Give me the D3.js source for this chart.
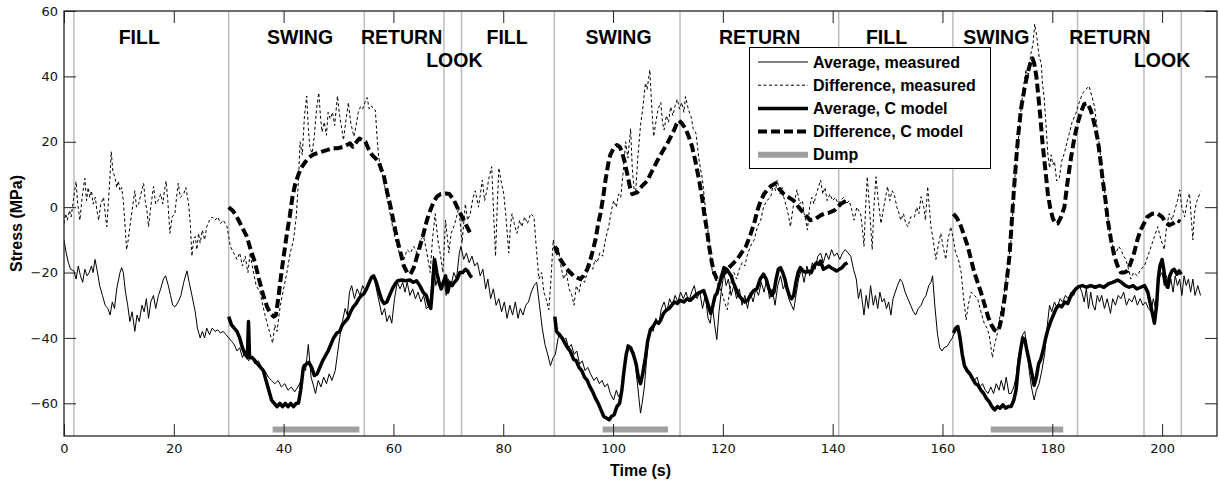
<!DOCTYPE html>
<html>
<head>
<meta charset="utf-8">
<script src="https://cdn.jsdelivr.net/npm/d3@7"></script>
<style>
html,body{margin:0;padding:0;background:#fff;}
svg{display:block;}
</style>
</head>
<body>
<svg id="chart" width="1219" height="486"></svg>
<script>
// ---------------- DATA ----------------
const xTicks = [0,20,40,60,80,100,120,140,160,180,200];
const yTicks = [-60,-40,-20,0,20,40,60];
const phaseBoundaries = [1.8,30,54.7,69.2,72.4,89.3,112.2,141.1,161.9,184.6,196.7,203.5];
const phaseNames = ["FILL","SWING","RETURN","FILL","SWING","RETURN","FILL","SWING","RETURN","LOOK","LOOK"];
const phaseCenters = [13.7,43,61.5,80.7,101,126.7,149.8,169.8,190.5,71.1,200];
const phaseRows = [0,0,0,0,0,0,0,0,0,1,1];
const legendNames = ["Average, measured","Difference, measured","Average, C model","Difference, C model","Dump"];
const dumpPeriods = [[38,53.8],[98.1,110],[168.8,182]];
const dumpLevel = -68;

const avgMeasured = [[0,-10],[0.4,-14],[0.8,-17],[1.2,-19],[1.8,-19.5],[2.2,-22],[2.6,-18],[3,-21],[3.4,-23],[3.8,-19],[4.2,-21],[4.6,-20],[5,-18],[5.3,-20],[5.65,-16],[6,-19],[6.5,-24],[7,-27],[7.5,-30],[8,-31],[8.4,-33],[8.8,-29],[9.2,-31],[9.6,-25],[10.2,-20],[10.5,-18.5],[10.8,-20],[11.2,-26],[11.6,-30],[12,-35],[12.4,-32],[12.9,-38],[13.3,-33],[13.7,-35],[14.2,-30],[14.6,-32],[15,-28],[15.4,-34],[15.8,-29],[16.3,-27],[16.7,-31],[17.2,-27],[17.6,-25],[18.1,-22],[18.5,-21],[19,-24],[19.4,-27],[19.8,-30],[20.2,-30.5],[20.8,-29],[21.3,-27],[21.8,-23],[22.4,-19.5],[22.8,-23],[23.3,-27],[23.9,-32],[24.3,-37],[24.8,-40],[25.2,-38],[25.6,-40],[26,-37],[26.5,-39],[27,-37],[27.5,-38],[28,-37.5],[28.5,-38.5],[29,-38],[29.5,-39],[30,-40],
[30.5,-41],[31,-42],[31.5,-44],[32,-43],[32.5,-46],[33,-44],[33.6,-47],[34.2,-46],[34.8,-48],[35.4,-47],[36,-49],[36.6,-50],[37.2,-52],[37.8,-53],[38.4,-54],[39,-53],[39.6,-55],[40.2,-54],[40.8,-56],[41.4,-55],[42,-56.5],[42.6,-55],[43.2,-53],[43.6,-48],[44,-50],[44.5,-42],[45,-52],[45.5,-55],[45.8,-57],[46.3,-53],[46.8,-55],[47.3,-52],[47.8,-54],[48.3,-51],[48.8,-53],[49.4,-50],[49.8,-45],[50.2,-40],[50.7,-35],[51.2,-31],[51.6,-33],[52,-26],[52.4,-24],[52.9,-28],[53.4,-25],[53.9,-27],[54.4,-24],[54.9,-26],[55.5,-23],[56,-22],[56.4,-21],[56.9,-25],[57.4,-29],[57.9,-33],[58.4,-31],[58.8,-35],[59.3,-33],[59.7,-35.5],[60.2,-28],[60.7,-23],[61.2,-25],[61.7,-23],[62.1,-26],[62.5,-23],[63,-27],[63.5,-25],[64,-28],[64.5,-26],[65,-29],[65.5,-27],[66,-31],[66.7,-30],[67,-22],[67.3,-15],[67.7,-24],[68.2,-21],[68.6,-24],[69.2,-22],[69.6,-27],[70,-22],[70.5,-24],[71,-20],[71.5,-22],[72,-14],[72.3,-12],[72.8,-16],[73.3,-14],[73.8,-17],[74.3,-15],[74.8,-18],[75.3,-17],[75.8,-21],[76.3,-19],[76.8,-25],[77.2,-22],[77.7,-28],[78.2,-25],[78.7,-30],[79.2,-28],[79.7,-32],[80.2,-29],[80.7,-34],[81.2,-30],[81.7,-33],[82.2,-29],[82.7,-34],[83.1,-31],[83.6,-33],[84.1,-30],[84.6,-29],[85.1,-26],[85.6,-24],[86.1,-23],[86.6,-30],[87.1,-37],[87.6,-42],[88.1,-45],[88.6,-48.5],[89.1,-46],[89.5,-45],[90,-40],[90.4,-38.5],[90.9,-41],[91.4,-40],[91.9,-43],[92.4,-42],[92.9,-45],[93.4,-44],[93.9,-48],[94.4,-47],[94.9,-50],[95.4,-49],[95.9,-51],[96.5,-53],[97,-52],[97.5,-54],[98,-53],[98.5,-55],[99,-54],[99.5,-57],[100.1,-59],[100.6,-56],[101,-58],[101.4,-57],[101.9,-52],[102.3,-45],[102.6,-42],[103,-43],[103.5,-45],[104,-47],[104.5,-55],[105,-63],[105.3,-60],[105.7,-55],[106.1,-47],[106.5,-40],[106.9,-37],[107.3,-38],[107.8,-34],[108.3,-36],[108.8,-31],[109.3,-29],[109.8,-32],[110.3,-28],[110.8,-30],[111.3,-27],[111.8,-29],[112.3,-26],[112.8,-28],[113.3,-26],[113.8,-29],[114.3,-26],[114.8,-24],[115.3,-28],[115.8,-26],[116.3,-31],[116.8,-27],[117.3,-34],[117.7,-35.5],[118.1,-30],[118.5,-36],[118.9,-40.5],[119.3,-32],[119.7,-26],[120.2,-20],[120.6,-24],[121,-22],[121.5,-27],[122,-24],[122.5,-28],[123,-25],[123.5,-30],[124,-27],[124.5,-31],[125,-26],[125.5,-29],[126,-25],[126.5,-27],[127,-23],[127.5,-26],[128,-22],[128.5,-28],[129,-25],[129.5,-30],[130,-24],[130.5,-21],[131,-25],[131.5,-23],[132,-28],[132.5,-30],[132.9,-31.5],[133.4,-26],[133.8,-22],[134.3,-19],[134.8,-23],[135.3,-18],[135.8,-21],[136.3,-17],[136.8,-19],[137.3,-15],[137.8,-14],[138.3,-17],[138.8,-14],[139.3,-16],[139.8,-13],[140.3,-15],[140.8,-14],[141.3,-16],[141.8,-14],[142.3,-13],[142.8,-14],[143.3,-15],[143.8,-19],[144.3,-22],[144.7,-28],[145.1,-25],[145.7,-33],[146.1,-27],[146.5,-31],[146.9,-24],[147.4,-30],[147.8,-27],[148.2,-31],[148.6,-26],[149,-29],[149.4,-28],[149.8,-31],[150.2,-29],[150.6,-33],[151,-28],[151.4,-26],[151.8,-24],[152.3,-22],[152.7,-23],[153.2,-26],[153.7,-28],[154.2,-30],[154.7,-32],[155.1,-33],[155.6,-31],[156.1,-30],[156.6,-28],[157,-27],[157.5,-24],[157.9,-23],[158.2,-21],[158.6,-30],[159.1,-39],[159.5,-43],[159.9,-44],[160.3,-43],[160.9,-42.5],[161.4,-41],[161.8,-40],[162.3,-38],[162.8,-37.5],[163.3,-43],[163.7,-47],[164.2,-50],[164.7,-51],[165.2,-52],[165.8,-53],[166.3,-52],[166.8,-55],[167.3,-54],[167.8,-56],[168.3,-57],[168.8,-55],[169.3,-57],[169.8,-54],[170.3,-56],[170.7,-53],[171.2,-56],[171.6,-52],[172.1,-57],[172.5,-57],[173,-55],[173.4,-52],[173.8,-46],[174.2,-43],[174.6,-39],[175,-38],[175.4,-44],[175.8,-50],[176.2,-55],[176.7,-59],[177.1,-56],[177.6,-54],[178.1,-50],[178.6,-45],[179.1,-36],[179.5,-30],[179.9,-32],[180.4,-29],[180.9,-31],[181.4,-28],[181.9,-29],[182.4,-27],[182.9,-28],[183.4,-26],[183.9,-27],[184.4,-25],[184.9,-24],[185.4,-26],[185.8,-29],[186.2,-25],[186.6,-31],[187,-26],[187.4,-30],[187.8,-31.5],[188.2,-27],[188.6,-29],[189,-27],[189.5,-31],[190,-28],[190.6,-32.5],[191,-28],[191.5,-30],[192,-27],[192.5,-28],[193,-26],[193.5,-30],[194,-28],[194.5,-29],[195,-27],[195.5,-30],[196,-28],[196.5,-30],[197,-29],[197.5,-31],[198,-32],[198.4,-28],[198.8,-31],[199.2,-25],[199.6,-21],[200,-20],[200.4,-24],[200.8,-21],[201.2,-25],[201.6,-22],[202,-26],[202.4,-21],[202.8,-24],[203.2,-22],[203.6,-27],[204,-21],[204.4,-24],[204.8,-22],[205.2,-26],[205.6,-22],[206,-27],[206.5,-24],[207,-27]];

const diffMeasured = [[0,-5],[0.3,-2],[0.6,-4],[1,-1],[1.3,-3],[1.7,2],[2.2,7.8],[2.5,1],[2.9,-4],[3.3,3],[3.8,8.8],[4.1,2],[4.4,6],[4.7,3],[5,5],[5.3,1],[5.7,3],[6,-1],[6.3,-4],[6.7,1],[7.2,3],[7.5,-2],[7.8,-6],[8.1,2],[8.4,10],[8.6,17],[8.9,11],[9.3,9],[9.6,6],[9.9,8],[10.2,5],[10.5,6],[10.8,2],[11.1,-5],[11.4,-13],[11.7,-10],[12,-6],[12.4,-1],[12.9,5],[13.2,0],[13.6,1],[14,4],[14.5,7.3],[14.8,2],[15.1,-1],[15.4,-6],[15.8,0],[16.3,6.3],[16.7,1],[17.2,2.2],[17.6,4],[18,1],[18.3,5],[18.6,8],[18.9,2],[19.3,-8],[19.7,-3],[20.2,-2],[20.5,3],[20.8,7.3],[21.2,3],[21.8,4],[22.2,6],[22.7,1],[23,-5],[23.3,-15],[23.6,-10],[23.9,-9],[24.2,-13],[24.5,-8],[24.8,-11],[25.2,-7],[25.6,-10],[26,-6],[26.5,-4],[27,-3],[27.5,-4],[28,-3],[28.5,-5],[29,-4],[29.7,-6],[30.3,-12],[30.9,-14],[31.5,-16],[32,-14],[32.5,-18],[33,-15],[33.5,-20],[33.9,-14],[34.4,-19],[35,-24],[35.7,-26],[36.2,-30],[36.9,-35],[37.4,-38],[38,-41.6],[38.4,-36],[38.8,-38],[39.4,-30],[40,-25],[40.6,-20],[41.2,-14],[41.8,-10],[42.3,-3],[42.7,8],[43,20],[43.4,16],[43.8,28],[44.2,34],[44.5,24],[44.8,18],[45.2,16.5],[45.6,22],[46,30],[46.4,35],[46.7,28],[47,23],[47.4,26],[47.8,22],[48.1,29],[48.5,27],[48.9,29],[49.3,25],[49.8,34],[50.2,28],[50.5,25],[50.9,20.5],[51.3,26],[51.8,32],[52.2,26],[52.8,21.6],[53.2,25],[53.6,29],[54,30.7],[54.4,30],[54.8,32],[55.2,33.5],[55.6,30],[56,31],[56.4,30],[56.7,29.7],[57,22],[57.3,15.5],[57.7,12],[58.2,8.3],[58.8,3],[59.5,-3],[60.1,-8],[60.7,-12],[61.3,-15],[61.9,-16],[62.5,-13],[63.1,-14],[63.7,-12],[64.3,-14],[64.9,-10],[65.5,-9],[66.1,-14],[66.7,-20],[67.1,-10],[67.6,-2],[68.1,-10],[68.6,-15],[69,-20],[69.5,-4],[70.1,-14],[70.5,-8],[71,-6],[71.5,-3],[71.9,0],[72.5,-11],[73.1,1],[73.5,-4],[74,-2],[74.5,3],[74.9,5],[75.5,0],[76.2,8.3],[76.6,2],[77,5],[77.4,9],[77.9,12.4],[78.2,0],[78.6,-15],[78.9,0],[79.2,12],[79.6,8],[80.1,4],[80.5,-3],[81,-14],[81.3,-6],[81.6,-2],[82,-5],[82.5,-8],[83,-4],[83.4,-6],[83.9,-3],[84.4,-5],[85,-2],[85.6,-3],[86,-12],[86.5,-22],[87,-20],[87.4,-26],[87.8,-28],[88.3,-31.4],[88.7,-22],[89.1,-10],[89.5,-14],[90,-12],[90.5,-18],[91,-22],[91.5,-20],[92,-25],[92.5,-27],[92.9,-30],[93.3,-24],[93.8,-26],[94.3,-22],[94.8,-23],[95.3,-20],[95.8,-18],[96.3,-19],[96.7,-16],[97.1,-17],[97.6,-14],[98.1,-15],[98.6,-10],[99.2,-6],[99.6,-2],[100.1,2],[100.6,0],[101,4],[101.4,3],[101.8,10],[102.3,20],[102.7,15],[103.2,24],[103.5,12],[103.8,6],[104.1,4],[104.5,15],[105,25],[105.4,30],[105.9,38],[106.2,36],[106.7,42],[107,32],[107.4,21.6],[107.8,26],[108.2,30],[108.7,32],[109,26],[109.3,23.6],[109.7,28],[110.1,26],[110.5,30.7],[110.9,28],[111.3,31],[111.7,33],[112.1,30],[112.5,32],[112.9,29],[113.2,33.8],[113.7,30],[114.2,27.7],[114.6,24],[115.1,22.6],[115.7,14],[116.3,8.3],[116.8,0],[117.2,-6],[117.7,-14],[118.1,-20],[118.6,-22],[119.3,-24.3],[119.8,-26],[120.3,-29],[120.8,-31.4],[121.2,-26],[121.6,-22],[122,-20],[122.5,-22],[123,-19],[123.5,-17],[124,-18],[124.4,-15],[125,-12],[125.7,-10],[126.3,-6],[126.9,-4],[127.4,0],[128,2],[128.7,3],[129.2,7],[129.6,5],[129.9,8.3],[130.4,4],[130.8,6],[131.1,3],[131.6,0],[132,-3],[132.3,-6],[132.8,0],[133.2,3],[133.5,5.3],[134,1],[134.5,2],[134.8,-2],[135.1,-4],[135.4,-7],[135.8,0],[136.2,3],[136.6,1],[137,4],[137.4,6],[137.8,8.3],[138.2,4],[138.6,6],[139,2],[139.5,4],[140,2],[140.5,3],[141,1],[141.5,2.2],[142,3],[142.5,1],[143,2],[143.5,-1],[143.9,-4],[144.4,0],[145.1,-2],[145.5,-8],[145.7,-12],[146,0],[146.3,9.3],[146.7,0],[147.2,-13],[147.5,0],[147.9,9.3],[148.3,2],[148.8,-5],[149.3,0],[150,6.3],[150.4,2],[150.8,5],[151.2,4],[151.7,0],[152.1,-2],[152.4,-4],[152.9,-2],[153.3,-5],[153.7,-6],[154.2,-3],[154.9,-3],[155.3,0],[155.7,-2],[156.1,3.2],[156.6,0],[156.9,-4],[157.3,6.3],[157.6,0],[157.9,-6],[158.3,-10],[158.8,-16],[159.2,-12],[159.7,-8],[160.1,-12],[160.6,-16],[161,-10],[161.5,-6],[162,-10],[162.4,-14],[162.9,-16],[163.4,-20],[163.8,-27],[164.3,-34.5],[164.7,-30],[165.2,-26],[165.8,-27],[166.4,-28],[167,-32],[167.6,-35.5],[168.1,-37],[168.5,-39],[169.1,-46],[169.5,-42],[170,-38.6],[170.6,-32],[171.3,-26],[171.9,-18],[172.5,-10],[173,4],[173.4,14],[173.9,22],[174.3,30],[174.8,37],[175.2,42],[175.6,40],[176.1,47],[176.5,50],[176.8,56],[177.2,52],[177.6,46],[178,44],[178.2,38],[178.5,34],[178.9,24],[179.2,16],[179.5,12],[179.8,16],[180.1,13],[180.4,14],[180.8,8],[181.3,9],[181.7,14],[182.2,16.5],[182.7,20],[183.1,22.6],[183.6,26],[184.3,28.7],[184.9,32],[185.5,34.8],[186.1,36],[186.7,37],[187.2,34],[187.7,30.7],[188.1,25],[188.6,18.5],[189,12],[189.5,5.3],[190.1,-3],[190.7,-10],[191.2,-13],[191.6,-14],[192.1,-12],[192.5,-13],[193,-15],[193.4,-16],[193.9,-19],[194.3,-22],[194.8,-20],[195.5,-21],[196.1,-19],[196.8,-18],[197.4,-15],[198,-12],[198.6,-9],[199.2,-6],[199.8,-10],[200.4,-13],[200.8,-6],[201.3,-2],[201.8,-4],[202.3,-1],[202.8,2],[203.2,5.3],[203.6,0],[204.1,-3],[204.6,2],[205,4.2],[205.3,-3],[205.6,-10],[205.9,-2],[206.2,1.2],[206.6,3],[207,4.7]];

const avgModel1 = [[30,-33.5],[30.5,-36],[31,-37],[31.5,-38],[32,-40],[32.5,-43],[33,-45],[33.4,-46],[33.6,-35],[33.8,-46],[34.3,-46],[34.8,-47],[35.3,-48],[35.8,-49],[36.3,-50],[36.8,-53],[37.3,-56],[37.8,-59],[38.3,-60],[38.8,-61],[39.3,-60],[39.8,-61],[40.3,-60],[40.8,-61],[41.3,-60],[41.8,-61],[42.3,-60],[42.7,-60],[43.1,-56],[43.6,-49],[44.1,-48],[44.6,-47.5],[45.1,-49],[45.6,-51.5],[46.1,-51],[46.6,-49],[47.1,-47],[47.6,-45.5],[48.1,-44],[48.6,-42],[49.1,-40],[49.7,-38.5],[50.2,-38],[50.7,-36],[51.2,-35],[51.7,-34],[52.2,-32],[52.7,-30.5],[53.2,-29.5],[53.7,-28],[54.2,-27],[54.6,-26.5],[55.1,-25],[55.6,-23],[56,-21.5],[56.4,-21],[56.9,-23],[57.4,-26],[57.9,-28.5],[58.3,-29.5],[58.8,-29],[59.3,-27],[59.8,-25],[60.3,-23.5],[60.8,-22.5],[61.5,-22.3],[62.2,-22.5],[63,-22.3],[63.6,-23],[64.2,-22.5],[64.8,-24],[65.4,-26],[66,-27],[66.5,-30],[66.8,-31],[67.1,-25],[67.5,-16],[67.9,-20],[68.3,-23],[68.7,-25],[69.1,-23],[69.5,-21],[69.9,-26],[70.3,-23],[70.7,-24],[71.1,-23],[71.6,-22],[72.1,-20],[72.6,-20],[73.1,-19],[73.5,-19.5],[74,-21],[74.3,-21.5]];
const avgModel2 = [[89.4,-33.5],[89.7,-38],[90.2,-39],[90.7,-40],[91.2,-41.5],[91.7,-43],[92.2,-44],[92.8,-46.5],[93.3,-47],[93.8,-49],[94.3,-50],[94.8,-52],[95.3,-53],[95.8,-55],[96.3,-56.5],[96.8,-58.5],[97.3,-60],[97.8,-62],[98.3,-64],[98.8,-64.5],[99.3,-65],[99.7,-64],[100.2,-63.5],[100.7,-61],[101.2,-60],[101.6,-56],[102,-50],[102.4,-45],[102.8,-42.5],[103.2,-43],[103.7,-45],[104.2,-48],[104.6,-52],[105,-54],[105.4,-51],[105.9,-46],[106.3,-41],[106.8,-37.5],[107.3,-36.5],[107.8,-35],[108.3,-35.5],[108.7,-34.5],[109.2,-32.5],[109.7,-31.5],[110.2,-31],[110.7,-30],[111.2,-29],[111.7,-29.5],[112.2,-28.5],[112.9,-29],[113.5,-28],[114.1,-28.5],[114.7,-27.5],[115.3,-26.5],[115.9,-26],[116.5,-25.5],[117,-28],[117.5,-31],[117.8,-32.5],[118.2,-30],[118.6,-27],[118.9,-26.5],[119.3,-24],[119.8,-21],[120.2,-18.5],[120.7,-19],[121.1,-20],[121.5,-21],[121.9,-23],[122.4,-25],[122.9,-27],[123.4,-28],[124,-29],[124.5,-28.5],[125,-27],[125.6,-25.5],[126.2,-25],[126.8,-22],[127.4,-20.5],[127.9,-22],[128.4,-25],[128.9,-27],[129.3,-26],[129.7,-22],[130.1,-19],[130.5,-18.5],[130.9,-20],[131.3,-22],[131.7,-25],[132.1,-27],[132.5,-28],[132.9,-27],[133.3,-23],[133.7,-20],[134.1,-18.5],[134.6,-19.5],[135.1,-20],[135.6,-19.5],[136.1,-20],[136.6,-18],[137.1,-17],[137.5,-17.5],[137.8,-16.5],[138.3,-19],[138.8,-18.5],[139.3,-18],[139.7,-18.5],[140.2,-19],[140.7,-19.5],[141.2,-19],[141.7,-18.5],[142.2,-17.5],[142.7,-17]];
const avgModel3 = [[162,-38.5],[162.4,-37],[162.8,-36.5],[163.2,-40],[163.6,-45],[164,-48.5],[164.5,-50],[165,-51],[165.5,-52.5],[166,-54],[166.5,-54.5],[167,-56],[167.5,-57],[168,-58.5],[168.5,-59.5],[169,-61],[169.5,-62],[170,-61],[170.5,-61.5],[171,-60.5],[171.5,-61.5],[172,-61],[172.5,-61],[173,-59],[173.4,-56],[173.8,-49],[174.2,-44],[174.6,-40],[175,-40.5],[175.4,-44],[175.8,-47],[176.3,-51],[176.7,-54.5],[177.1,-52],[177.5,-48],[177.9,-46.5],[178.3,-44],[178.8,-40],[179.2,-37.5],[179.7,-35],[180.2,-33],[180.7,-31],[181.2,-30],[181.7,-30.5],[182.3,-29],[182.8,-29.5],[183.3,-27.5],[183.8,-26],[184.3,-25],[184.8,-24.3],[185.5,-24],[186.2,-24.5],[187,-24],[187.8,-24.5],[188.6,-24],[189.4,-24.5],[190.2,-23.5],[191,-23],[191.9,-22.3],[192.6,-23],[193.3,-24],[194,-24.5],[194.7,-24],[195.4,-25],[196.1,-24.5],[196.8,-24],[197.4,-26],[197.9,-30],[198.3,-33],[198.6,-35.5],[199,-30],[199.3,-22],[199.6,-18],[200,-16],[200.3,-19],[200.6,-23],[201,-24.5],[201.4,-21],[201.8,-19.5],[202.2,-19],[202.7,-20.5],[203.1,-19.5],[203.5,-20.5]];

const diffModel1 = [[30,0],[30.7,-1],[31.5,-3],[32.4,-6],[33.3,-9],[34,-13],[34.8,-17],[35.5,-22],[36.3,-27],[37,-30.5],[37.6,-32.5],[38.2,-33.5],[38.6,-33],[39.1,-27],[39.6,-20],[40.1,-14],[40.6,-8],[41.1,-3],[41.6,3],[42.1,7],[42.6,9.5],[43.2,12],[43.8,13.5],[44.5,15],[45.3,16],[46.1,16.5],[47,17],[48,17.5],[48.9,18],[49.8,18],[50.9,18.5],[51.5,19],[52.1,19.5],[52.6,18.5],[53.2,19.8],[53.8,21],[54.4,20.5],[54.9,20],[55.4,18],[56.1,16],[56.7,15],[57.3,14],[57.8,11.5],[58.2,10],[58.8,5],[59.5,0],[60.1,-5],[60.7,-10],[61.3,-14],[61.9,-18],[62.5,-20],[63.1,-20.5],[63.7,-18.5],[64.3,-15],[64.9,-11.5],[65.5,-8],[66.1,-4],[66.7,-1],[67.3,1.5],[67.9,3.2],[68.6,4],[69.5,4.2],[70.2,4],[71,2.2],[71.6,0],[72.2,-2],[72.8,-4],[73.4,-6],[74,-8]];
const diffModel2 = [[89.4,-12],[89.9,-14],[90.4,-16],[91,-17.5],[91.6,-19],[92.2,-20],[92.8,-21],[93.4,-21.5],[94,-22],[94.6,-21],[95.3,-19],[95.8,-16.5],[96.2,-14],[96.8,-10],[97.3,-5],[97.7,-2],[98.2,3],[98.6,8],[99.1,13],[99.5,16],[100.1,18],[100.7,19],[101.2,18.5],[101.6,17],[102.1,14],[102.6,10],[103.1,6],[103.5,4],[104.4,4.5],[105.3,6.5],[106.2,8],[107.1,11],[108,14],[109,17],[109.9,19.5],[110.5,21.5],[111.1,23.5],[111.6,25.5],[112,26.5],[112.6,25.5],[113.2,24],[113.8,21.5],[114.4,18.5],[115,14],[115.7,8],[116.2,3],[116.6,-2],[117.1,-7],[117.5,-12],[118,-17],[118.4,-20],[118.9,-22],[119.3,-22],[119.9,-21],[120.8,-19],[121.7,-17.5],[122.6,-16],[123.4,-14],[124.2,-12],[125,-8.5],[125.7,-5],[126.3,-1],[126.9,2],[127.5,4],[128.1,5.3],[128.8,6.5],[129.6,7.3],[130.3,5.5],[131.1,4],[132,3],[132.9,2],[133.8,0],[134.8,-2],[135.9,-4],[136.9,-3.5],[137.8,-2.5],[138.5,-2],[139.2,-1.8],[140.3,-1],[141.5,1],[142.7,2.2]];
const diffModel3 = [[162,-2],[162.7,-3.5],[163.4,-6],[164,-9],[164.6,-12],[165.2,-16],[165.8,-20],[166.4,-23],[167,-26],[167.7,-30],[168.3,-33.5],[168.9,-36],[169.5,-37.6],[170,-38],[170.4,-36.6],[170.9,-33],[171.3,-28],[171.8,-21],[172.2,-15],[172.6,-5],[173,5],[173.4,14],[173.8,22],[174.3,30],[174.9,36],[175.5,41],[176,44],[176.4,45.5],[176.7,44],[177.1,40],[177.4,35],[177.8,28],[178.2,20],[178.7,12],[179.2,4],[179.6,0],[180.1,-3.5],[180.6,-5],[181,-5],[181.6,-3],[182.2,0],[182.8,8],[183.4,15],[184,21],[184.6,25.5],[185.2,29],[185.8,31.5],[186.4,31.8],[187,29.7],[187.6,26],[188.3,20.5],[188.8,14],[189.2,8],[189.7,2],[190.1,-4],[190.7,-10],[191.3,-15],[191.9,-18],[192.5,-20],[193.1,-20],[193.7,-19.5],[194.3,-17],[194.9,-14],[195.5,-10],[196.1,-7],[196.7,-5],[197.3,-3],[198.2,-2],[199.2,-2],[200,-3],[200.6,-4.5],[201.3,-5.5],[202,-5],[202.8,-4],[203.3,-4.5]];

// ---------------- DRAW ----------------
const FONT = "'Liberation Sans', Arial, Helvetica, sans-serif";
const svg = d3.select("#chart");
const L = 64, R = 1217, T = 11, B = 436;
const x = d3.scaleLinear().domain([0,210]).range([L,R]);
const y = d3.scaleLinear().domain([-70,60]).range([B,T]);

svg.append("defs").append("clipPath").attr("id","plotclip")
  .append("rect").attr("x",L).attr("y",T).attr("width",R-L).attr("height",B-T);

// phase boundary lines
svg.append("g").selectAll("line").data(phaseBoundaries).join("line")
  .attr("x1",d=>x(d)).attr("x2",d=>x(d)).attr("y1",T).attr("y2",B)
  .attr("stroke","#bdbdbd").attr("stroke-width",1.5);

const line = d3.line().x(d=>x(d[0])).y(d=>y(d[1]));
const plot = svg.append("g").attr("clip-path","url(#plotclip)");

const styles = {
  avgMeas: {w:1, dash:null, c:"#000"},
  diffMeas: {w:1, dash:"3,2.5", c:"#000"},
  avgModel: {w:3.5, dash:null, c:"#000"},
  diffModel: {w:4, dash:"9,4", c:"#000"},
  dump: {w:6, dash:null, c:"#a0a0a0"}
};
function drawSeries(data, st){
  plot.append("path").datum(data).attr("d",line)
    .attr("fill","none").attr("stroke",st.c).attr("stroke-width",st.w)
    .attr("stroke-linejoin","round")
    .attr("stroke-dasharray",st.dash);
}
drawSeries(avgMeasured, styles.avgMeas);
drawSeries(diffMeasured, styles.diffMeas);
[avgModel1,avgModel2,avgModel3].forEach(s=>drawSeries(s, styles.avgModel));
[diffModel1,diffModel2,diffModel3].forEach(s=>drawSeries(s, styles.diffModel));

// dump bars
plot.append("g").selectAll("line").data(dumpPeriods).join("line")
  .attr("x1",d=>x(d[0])).attr("x2",d=>x(d[1]))
  .attr("y1",y(dumpLevel)).attr("y2",y(dumpLevel))
  .attr("stroke",styles.dump.c).attr("stroke-width",styles.dump.w);

// axes
const tickFont = "'DejaVu Sans', sans-serif";
const axB = svg.append("g").attr("transform",`translate(0,${B})`)
  .call(d3.axisBottom(x).tickValues(xTicks).tickSizeInner(-12).tickSizeOuter(0).tickPadding(8));
const axL = svg.append("g").attr("transform",`translate(${L},0)`)
  .call(d3.axisLeft(y).tickValues(yTicks).tickSizeInner(-12).tickSizeOuter(0).tickPadding(6));
const axT = svg.append("g").attr("transform",`translate(0,${T})`)
  .call(d3.axisTop(x).tickValues(xTicks).tickSizeInner(-12).tickSizeOuter(0).tickFormat(""));
const axR = svg.append("g").attr("transform",`translate(${R},0)`)
  .call(d3.axisRight(y).tickValues(yTicks).tickSizeInner(-12).tickSizeOuter(0).tickFormat(""));
[axB,axL,axT,axR].forEach(a=>{
  a.select(".domain").remove();
  a.selectAll(".tick line").attr("stroke","#222").attr("stroke-width",1);
  a.selectAll("text").attr("font-family",tickFont).attr("font-size",13).attr("fill","#111");
});
svg.append("rect").attr("x",L).attr("y",T).attr("width",R-L).attr("height",B-T)
  .attr("fill","none").attr("stroke","#222").attr("stroke-width",1.3);

// axis titles
svg.append("text").attr("x",(L+R)/2).attr("y",476).attr("text-anchor","middle")
  .attr("font-family",FONT).attr("font-weight","bold").attr("font-size",16).text("Time (s)");
svg.append("text").attr("transform",`translate(22,${(T+B)/2}) rotate(-90)`).attr("text-anchor","middle")
  .attr("font-family",FONT).attr("font-weight","bold").attr("font-size",16).text("Stress (MPa)");

// phase labels
svg.append("g").selectAll("text").data(phaseNames.map((n,i)=>({n, t:phaseCenters[i], r:phaseRows[i]}))).join("text")
  .attr("x",d=>x(d.t)).attr("y",d=>d.r===0?44:67).attr("text-anchor","middle")
  .attr("font-family",FONT).attr("font-weight","bold").attr("font-size",19.5).attr("fill","#000")
  .text(d=>d.n);

// legend
const lg = svg.append("g");
lg.append("rect").attr("x",749.5).attr("y",47.5).attr("width",241).attr("height",121)
  .attr("fill","#fff").attr("stroke","#000").attr("stroke-width",1);
const legStyles = [styles.avgMeas, styles.diffMeas, styles.avgModel, styles.diffModel, styles.dump];
legendNames.forEach((n,i)=>{
  const cy = 62 + i*23.2;
  const st = legStyles[i];
  lg.append("line").attr("x1",758).attr("x2",808).attr("y1",cy).attr("y2",cy)
    .attr("stroke",st.c).attr("stroke-width",st.w).attr("stroke-dasharray",st.dash);
  lg.append("text").attr("x",813).attr("y",cy+5.5)
    .attr("font-family",FONT).attr("font-weight","bold").attr("font-size",16).text(n);
});
</script>
</body>
</html>
